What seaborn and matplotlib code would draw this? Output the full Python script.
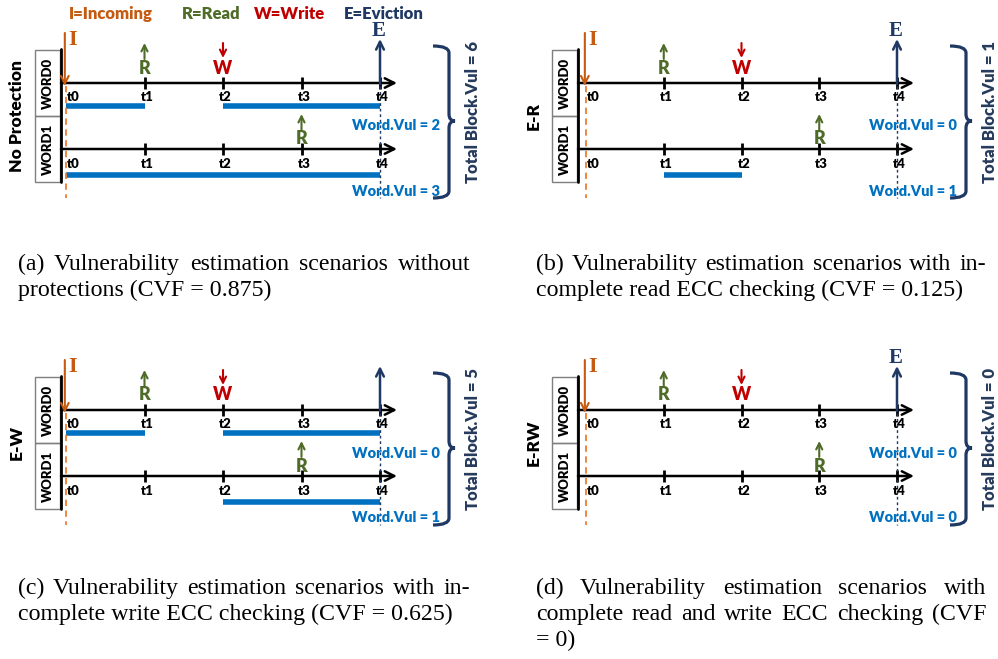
import numpy as np
import pandas as pd
import matplotlib
matplotlib.use("Agg")
import matplotlib.pyplot as plt
import seaborn as sns
from matplotlib.path import Path
from matplotlib.patches import PathPatch, Rectangle

sns.set_theme(style="white")
plt.rcParams["font.family"] = ["Lato", "DejaVu Sans"]

# ---------------- data ----------------
times = [0, 1, 2, 3, 4]
time_labels = ["t0", "t1", "t2", "t3", "t4"]
legend_labels = ["I=Incoming", "R=Read", "W=Write", "E=Eviction"]
scenarios = ["No Protection", "E-R", "E-W", "E-RW"]
word_names = ["WORD0", "WORD1"]
incoming_time = 0
evict_time = 4
word0_read_time = 1
word0_write_time = 2
word1_read_time = 3
word0_vul_start = [[0, 2], [], [0, 2], []]
word0_vul_end = [[1, 4], [], [1, 4], []]
word1_vul_start = [[0], [1], [2], []]
word1_vul_end = [[4], [2], [4], []]
word0_vul = [2, 0, 0, 0]
word1_vul = [3, 1, 1, 0]
total_vul = [6, 1, 5, 0]
show_evict_label = [True, True, False, True]
caption_lines = [
    ["(a) Vulnerability estimation scenarios without", "protections (CVF = 0.875)"],
    ["(b) Vulnerability estimation scenarios with in-", "complete read ECC checking (CVF = 0.125)"],
    ["(c) Vulnerability estimation scenarios with in-", "complete write ECC checking (CVF = 0.625)"],
    ["(d) Vulnerability estimation scenarios with", "complete read and write ECC checking (CVF", "= 0)"],
]

# ---------------- style ----------------
C_IN = "#C55A11"
C_R = "#4F6B28"
C_W = "#C00000"
C_E = "#1F3864"
C_BLUE = "#0070C0"
C_ORANGE = "#ED7D31"
C_TOTAL = "#263A5C"
LEG_COLORS = [C_IN, C_R, C_W, C_E]
BW = "heavy"

FW, FH = 998, 659
fig = plt.figure(figsize=(FW / 100, FH / 100), dpi=100)
fig.patch.set_facecolor("white")

def fx(p):
    return p / FW

def fy(p):
    return 1 - p / FH

# legend
leg_x = [111, 211, 290, 384]
for lab, x, c in zip(legend_labels, leg_x, LEG_COLORS):
    fig.text(fx(x), fy(14), lab, color=c, fontsize=12, fontweight=BW,
             ha="center", va="center")

PW, PH = 481, 215
col_left = [0, 517]
row_top = [0, 327]
col_t0 = [66, 69]
col_sp = [78.5, 77.75]

Y_AX = [83, 149]
Y_BAR = [106, 175]
Y_LBL = [97, 164]

for i, name in enumerate(scenarios):
    c, r = i % 2, i // 2
    L, T = col_left[c], row_top[r]
    t0p, sp = col_t0[c], col_sp[c]
    X = lambda p, t0p=t0p, sp=sp: (p - t0p) / sp
    ax = fig.add_axes([fx(L), fy(T + PH), PW / FW, PH / FH])
    ax.set_axis_off()

    # vulnerability bars (seaborn lineplot, one unit per segment)
    rows = []
    k = 0
    for wi, (starts, ends) in enumerate([(word0_vul_start[i], word0_vul_end[i]),
                                          (word1_vul_start[i], word1_vul_end[i])]):
        for s, e in zip(starts, ends):
            rows.append({"t": s, "y": Y_BAR[wi], "seg": k})
            rows.append({"t": e, "y": Y_BAR[wi], "seg": k})
            k += 1
    if rows:
        df = pd.DataFrame(rows)
        sns.lineplot(data=df, x="t", y="y", units="seg", estimator=None, sort=False,
                     color=C_BLUE, lw=4, ax=ax, legend=False)
        for ln in ax.lines:
            ln.set_solid_capstyle("butt")

    # word boxes
    for wi in range(2):
        y0 = 50 + wi * 66
        ax.add_patch(Rectangle((X(35), y0), X(60) - X(35), 66, fill=False,
                               ec="#7F7F7F", lw=1.0, clip_on=False))
        ax.text(X(47.5), y0 + 33, word_names[wi], rotation=90, ha="center",
                va="center", fontsize=9.5, fontweight=BW, color="black")
    ax.plot([X(61), X(61)], [49, 182], color="black", lw=2, clip_on=False)

    # time axes
    for wi in range(2):
        Y = Y_AX[wi]
        ax.annotate("", xy=(X(397), Y), xytext=(X(61), Y),
                    arrowprops=dict(arrowstyle="->", lw=1.8, color="black",
                                    shrinkA=0, shrinkB=0, mutation_scale=17))
        ax.vlines(times[1:], Y - 6, Y + 6, colors="black", lw=2)
        for t, lab in zip(times, time_labels):
            if t == times[0]:
                ax.text(t + 0.01, Y_LBL[wi], lab, ha="left", va="center",
                        fontsize=9.5, fontweight=BW, color="black")
            else:
                ax.text(t + 0.03, Y_LBL[wi], lab, ha="center", va="center",
                        fontsize=9.5, fontweight=BW, color="black")

    # incoming dashed line and arrow
    ax.plot([incoming_time, incoming_time], [86, 198], color=C_ORANGE, lw=1.3,
            ls=(0, (3.5, 2.5)), clip_on=False)
    ax.annotate("", xy=(incoming_time - 0.015, 86), xytext=(incoming_time - 0.015, 33),
                arrowprops=dict(arrowstyle="->", lw=1.5, color=C_IN,
                                shrinkA=0, shrinkB=0, mutation_scale=14))
    ax.text(X(t0p + 7), 40, "I", color=C_IN, fontsize=16, fontweight="bold",
            family="Liberation Serif", ha="center", va="center")

    # eviction dotted line and arrow
    ax.plot([evict_time, evict_time], [86, 198], color=C_E, lw=1.0,
            ls=(0, (2, 2)), clip_on=False)
    ax.annotate("", xy=(evict_time, 39), xytext=(evict_time, 84),
                arrowprops=dict(arrowstyle="->", lw=1.8, color=C_E,
                                shrinkA=0, shrinkB=0, mutation_scale=14))
    if show_evict_label[i]:
        ax.text(evict_time - 0.02, 31, "E", color=C_E, fontsize=15, fontweight="bold",
                family="Liberation Serif", ha="center", va="center")

    # read / write events
    ax.annotate("", xy=(word0_read_time, 43), xytext=(word0_read_time, 59),
                arrowprops=dict(arrowstyle="->", lw=1.5, color=C_R,
                                shrinkA=0, shrinkB=0, mutation_scale=11))
    ax.text(word0_read_time, 68, "R", color=C_R, fontsize=13, fontweight=BW,
            ha="center", va="center")
    ax.annotate("", xy=(word0_write_time, 58), xytext=(word0_write_time, 43),
                arrowprops=dict(arrowstyle="->", lw=1.5, color=C_W,
                                shrinkA=0, shrinkB=0, mutation_scale=11))
    ax.text(word0_write_time, 68, "W", color=C_W, fontsize=13, fontweight=BW,
            ha="center", va="center")
    ax.annotate("", xy=(word1_read_time, 114), xytext=(word1_read_time, 130),
                arrowprops=dict(arrowstyle="->", lw=1.5, color=C_R,
                                shrinkA=0, shrinkB=0, mutation_scale=11))
    ax.text(word1_read_time, 139, "R", color=C_R, fontsize=13, fontweight=BW,
            ha="center", va="center")

    # word vulnerability labels
    ax.text(X(396), 126, f"Word.Vul = {word0_vul[i]}", color=C_BLUE, fontsize=10.5,
            fontweight=BW, ha="center", va="center")
    ax.text(X(396), 191, f"Word.Vul = {word1_vul[i]}", color=C_BLUE, fontsize=10.5,
            fontweight=BW, ha="center", va="center")

    # brace
    xl, xs, xt = X(433), X(449), X(455)
    yt, ym, yb, rr = 46, 121, 198, 7
    verts = [(xl, yt), (xs, yt), (xs, yt + rr), (xs, ym - rr), (xs, ym), (xt, ym),
             (xs, ym), (xs, ym + rr), (xs, yb - rr), (xs, yb), (xl, yb)]
    codes = [Path.MOVETO, Path.CURVE3, Path.CURVE3, Path.LINETO, Path.CURVE3, Path.CURVE3,
             Path.CURVE3, Path.CURVE3, Path.LINETO, Path.CURVE3, Path.CURVE3]
    ax.add_patch(PathPatch(Path(verts, codes), fill=False, ec=C_E, lw=2.3,
                           clip_on=False, capstyle="butt"))
    ax.text(X(473), 112, f"Total Block.Vul = {total_vul[i]}", rotation=90, color=C_TOTAL,
            fontsize=12, fontweight=BW, ha="center", va="center")
    ax.text(X(17), 116, name, rotation=90, color="black", fontsize=12.5,
            fontweight=BW, ha="center", va="center")

    ax.set_xlim(X(0), X(PW))
    ax.set_ylim(PH, 0)

# ---------------- captions (justified) ----------------
renderer = fig.canvas.get_renderer()
CAP_FONT = dict(family="Liberation Serif", fontsize=17.2, color="black")
cap_x = [(18, 470), (536, 986)]
cap_base = [[270, 296, 322], [594, 620, 646]]

for i, lines in enumerate(caption_lines):
    c, r = i % 2, i // 2
    x0, x1 = cap_x[c]
    for li, line in enumerate(lines):
        yb = cap_base[r][li]
        last = li == len(lines) - 1
        if last:
            fig.text(fx(x0), fy(yb), line, ha="left", va="baseline", **CAP_FONT)
            continue
        words = line.split(" ")
        objs = [fig.text(0, 0, w, ha="left", va="baseline", **CAP_FONT) for w in words]
        widths = [o.get_window_extent(renderer).width for o in objs]
        gap = (x1 - x0 - sum(widths)) / (len(words) - 1)
        x = x0
        for o, w in zip(objs, widths):
            o.set_position((fx(x), fy(yb)))
            x += w + gap

fig.savefig("out.png", dpi=100, facecolor="white")
